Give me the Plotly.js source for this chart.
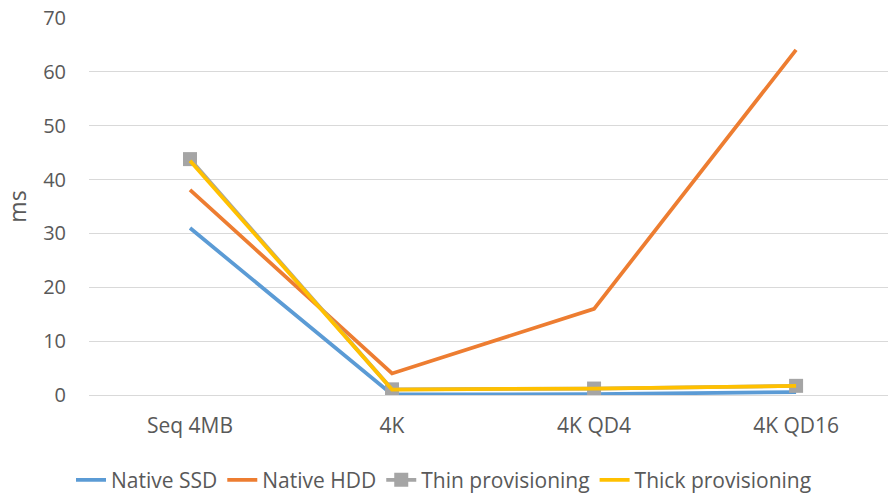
<!DOCTYPE html>
<html>
<head>
<meta charset="utf-8">
<script src="https://cdn.plot.ly/plotly-3.0.1.min.js"></script>
<style>
  html, body { margin: 0; padding: 0; background: #fff; }
  #chart { width: 888px; height: 493px; }
</style>
</head>
<body>
<div id="chart"></div>
<script>
// Latency per workload (ms)
const categories = ["Seq 4MB", "4K", "4K QD4", "4K QD16"];
const nativeSSD = [31.0, 0.1, 0.15, 0.55];
const nativeHDD = [38.1, 4.0, 16.0, 64.1];
const thinProv  = [43.8, 1.05, 1.2, 1.7];
const thickProv = [43.5, 1.0, 1.2, 1.7];

const seriesNames = ["Native SSD", "Native HDD", "Thin provisioning", "Thick provisioning"];
const seriesColors = ["#5B9BD5", "#ED7D31", "#A5A5A5", "#FFC000"];

const font = "'Open Sans', Lato, sans-serif";
const textColor = "#595959";

function lineTrace(name, y, color, withMarker) {
  const trace = {
    type: "scatter",
    mode: withMarker ? "lines+markers" : "lines",
    name: name,
    x: categories,
    y: y,
    line: { color: color, width: 3.75 },
    hoverinfo: "x+y+name"
  };
  if (withMarker) {
    trace.marker = { symbol: "square", size: 14, color: color };
  }
  return trace;
}

const data = [
  lineTrace(seriesNames[0], nativeSSD, seriesColors[0], false),
  lineTrace(seriesNames[1], nativeHDD, seriesColors[1], false),
  lineTrace(seriesNames[2], thinProv, seriesColors[2], true),
  lineTrace(seriesNames[3], thickProv, seriesColors[3], false)
];

const layout = {
  width: 888,
  height: 493,
  paper_bgcolor: "#ffffff",
  plot_bgcolor: "#ffffff",
  margin: { l: 89, r: 0, t: 18, b: 98 },
  font: { family: font, size: 21, color: textColor },
  showlegend: true,
  legend: {
    orientation: "h",
    xref: "container", yref: "container",
    x: 0.5, xanchor: "center",
    y: 0.026, yanchor: "middle",
    font: { family: font, size: 21, color: textColor },
    traceorder: "normal"
  },
  xaxis: {
    type: "category",
    range: [-0.5, 3.455],
    showgrid: false,
    zeroline: false,
    showline: false,
    ticks: "",
    ticklabelstandoff: 16,
    tickfont: { family: font, size: 21, color: textColor },
    fixedrange: true
  },
  yaxis: {
    range: [0, 70],
    dtick: 10,
    tick0: 0,
    showgrid: true,
    gridcolor: "#D9D9D9",
    gridwidth: 1,
    zeroline: true,
    zerolinecolor: "#D9D9D9",
    zerolinewidth: 1,
    showline: false,
    ticks: "",
    ticklabelstandoff: 22,
    tickfont: { family: font, size: 20, color: textColor },
    title: { text: "ms", font: { family: font, size: 23, color: textColor }, standoff: 10 },
    fixedrange: true
  }
};

Plotly.newPlot("chart", data, layout, { displayModeBar: false, staticPlot: true });
</script>
</body>
</html>
